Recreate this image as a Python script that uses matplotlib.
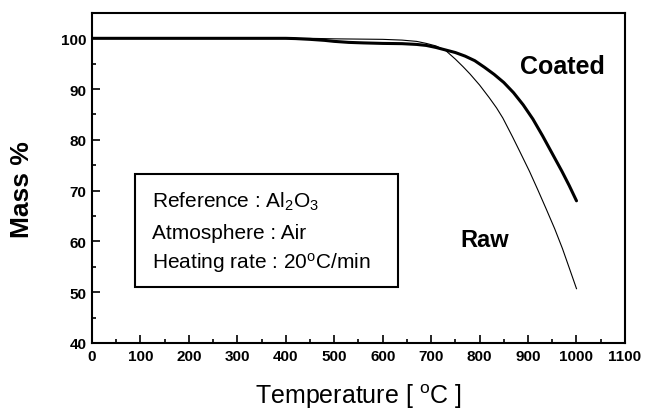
import numpy as np
import matplotlib as mpl

mpl.use("Agg")

import matplotlib.pyplot as plt
import matplotlib.ticker as ticker
from matplotlib.patches import Rectangle

# ---- data ----
temp_coated = [0, 200, 400, 420, 450, 480, 500, 530, 560, 600, 640, 670, 690, 710, 730, 750,
               770, 790, 810, 830, 850, 870, 890, 910, 930, 950, 970, 985, 1000]
mass_coated = [100, 100, 100, 99.95, 99.8, 99.6, 99.4, 99.2, 99.1, 99.0, 98.95, 98.8, 98.6, 98.2, 97.7, 97.2,
               96.5, 95.6, 94.3, 92.9, 91.3, 89.3, 86.9, 84.1, 80.8, 77.3, 73.8, 71.0, 68.0]

temp_raw = [0, 200, 450, 500, 550, 600, 640, 670, 690, 710, 730, 750, 766, 780, 800, 820,
            835, 848, 868, 882, 903, 920, 937, 955, 971, 985, 1000]
mass_raw = [100, 100, 100, 99.9, 99.85, 99.8, 99.65, 99.4, 99.0, 98.5, 97.6, 95.9, 94.4, 93.0, 90.8, 88.3,
            86.3, 84.3, 80.6, 77.9, 73.8, 70.2, 66.5, 62.5, 58.6, 54.8, 50.7]

x_ticks = list(range(0, 1101, 100))
y_ticks = list(range(40, 101, 10))

info_lines = ["Reference : Al$_2$O$_3$",
              "Atmosphere : Air",
              r"Heating rate : 20$^{\mathrm{o}}$C/min"]

plt.rcParams["font.family"] = ["Liberation Sans", "DejaVu Sans"]
plt.rcParams["mathtext.fontset"] = "custom"
plt.rcParams["mathtext.rm"] = "Liberation Sans"
plt.rcParams["mathtext.it"] = "Liberation Sans:italic"
plt.rcParams["mathtext.bf"] = "Liberation Sans:bold"

fig = plt.figure(figsize=(6.46, 4.10), dpi=100)
ax = fig.add_axes([0.1424, 0.161, 0.825, 0.805])

ax.plot(temp_raw, mass_raw, color="black", lw=0.8)
ax.plot(temp_coated, mass_coated, color="black", lw=2.2, solid_capstyle="round")

ax.set_xlim(0, 1100)
ax.set_ylim(40, 105)
ax.set_xticks(x_ticks)
ax.set_yticks(y_ticks)
ax.xaxis.set_minor_locator(ticker.MultipleLocator(50))
ax.yaxis.set_minor_locator(ticker.MultipleLocator(5))
ax.tick_params(which="both", direction="in", width=1.2, top=False, right=False)
ax.tick_params(which="major", length=6, labelsize=11, pad=4)
ax.tick_params(which="minor", length=3)
for lab in ax.get_xticklabels() + ax.get_yticklabels():
    lab.set_fontweight("bold")
for sp in ax.spines.values():
    sp.set_linewidth(1.5)

# 轴标题
fig.text(22 / 646, 1 - 190 / 410, "Mass %", fontsize=19, fontweight="bold",
         rotation=90, ha="center", va="center")
fig.text(358 / 646, 1 - 397 / 410, r"Temperature [ $^{\mathrm{o}}$C ]", fontsize=18,
         ha="center", va="center")

ax.text(0.882, 0.839, "Coated", transform=ax.transAxes, fontsize=18,
        fontweight="bold", ha="center", va="center")
ax.text(0.736, 0.315, "Raw", transform=ax.transAxes, fontsize=17,
        fontweight="bold", ha="center", va="center")

# 信息框
ax.add_patch(Rectangle((0.081, 0.170), 0.493, 0.342, transform=ax.transAxes,
                       fill=False, ec="black", lw=1.5))
for s, yy in zip(info_lines, [0.430, 0.336, 0.245]):
    ax.text(0.1126, yy, s, transform=ax.transAxes, fontsize=15, ha="left", va="center")

fig.savefig("out.png", dpi=100)
